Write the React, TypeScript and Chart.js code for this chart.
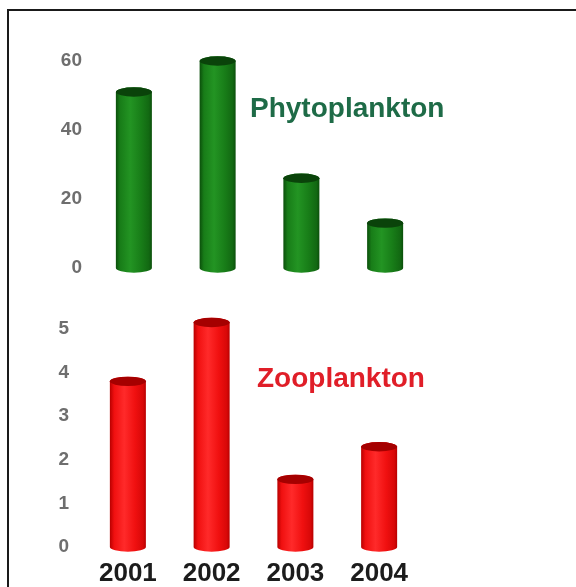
import React, { useEffect, useRef } from "react";
import { Chart, registerables } from "chart.js";

Chart.register(...registerables);

const years = ["2001", "2002", "2003", "2004"];
const phytoValues = [51, 60, 26, 13];
const zooValues = [3.8, 5.15, 1.55, 2.3];
const phytoTicks = [0, 20, 40, 60];
const zooTicks = [0, 1, 2, 3, 4, 5];
const phytoLabel = "Phytoplankton";
const zooLabel = "Zooplankton";

const FONT = "'Liberation Sans', Arial, sans-serif";

const cylinderPlugin = {
  id: "cylinder",
  afterDatasetsDraw(chart: any) {
    const o = chart.options.plugins.cylinder;
    if (!o) return;
    const ctx = chart.ctx;
    const meta = chart.getDatasetMeta(0);
    meta.data.forEach((el: any) => {
      const { x, y, base, width } = el.getProps(["x", "y", "base", "width"], true);
      const hw = width / 2;
      const l = x - hw;
      const r = x + hw;
      const ry = width * 0.13;
      const g = ctx.createLinearGradient(l, 0, r, 0);
      g.addColorStop(0, o.edge);
      g.addColorStop(0.12, o.mid);
      g.addColorStop(0.4, o.light);
      g.addColorStop(0.7, o.mid);
      g.addColorStop(0.92, o.mid2);
      g.addColorStop(1, o.edge);
      ctx.save();
      ctx.beginPath();
      ctx.moveTo(l, y);
      ctx.lineTo(l, base);
      ctx.ellipse(x, base, hw, ry, 0, Math.PI, 0, true);
      ctx.lineTo(r, y);
      ctx.ellipse(x, y, hw, ry, 0, 0, Math.PI, true);
      ctx.closePath();
      ctx.fillStyle = g;
      ctx.fill();
      ctx.beginPath();
      ctx.ellipse(x, y, hw, ry, 0, 0, Math.PI * 2);
      ctx.fillStyle = o.cap;
      ctx.fill();
      ctx.restore();
    });
  },
};

function makeChart(
  canvas: HTMLCanvasElement,
  values: number[],
  ticks: number[],
  colors: any,
  opts: { padTop: number; padBottom: number; padRight: number; yWidth: number; yPad: number; showX: boolean; xHeight: number }
) {
  return new Chart(canvas, {
    type: "bar",
    data: {
      labels: years,
      datasets: [
        {
          data: values,
          backgroundColor: "rgba(0,0,0,0)",
          borderWidth: 0,
          barPercentage: 0.43,
          categoryPercentage: 1,
        },
      ],
    },
    plugins: [cylinderPlugin],
    options: {
      animation: false,
      responsive: false,
      maintainAspectRatio: false,
      layout: { padding: { top: opts.padTop, bottom: opts.padBottom, left: 0, right: opts.padRight } },
      plugins: {
        legend: { display: false },
        tooltip: { enabled: false },
        title: { display: false },
        cylinder: colors,
      } as any,
      scales: {
        x: {
          display: opts.showX,
          grid: { display: false, drawTicks: false },
          border: { display: false },
          ticks: {
            color: "#1c1c1c",
            font: { family: FONT, size: 26, weight: "bold" },
            padding: 11,
          },
          afterFit: (s: any) => {
            s.height = opts.xHeight;
          },
        },
        y: {
          min: ticks[0],
          max: ticks[ticks.length - 1],
          grid: { display: false, drawTicks: false },
          border: { display: false },
          afterBuildTicks: (s: any) => {
            s.ticks = ticks.map((v) => ({ value: v }));
          },
          ticks: {
            color: "#6e6e6e",
            font: { family: FONT, size: 19, weight: "bold" },
            padding: opts.yPad,
          },
          afterFit: (s: any) => {
            s.width = opts.yWidth;
          },
        },
      },
    },
  });
}

export default function App() {
  const topRef = useRef<HTMLCanvasElement>(null);
  const botRef = useRef<HTMLCanvasElement>(null);

  useEffect(() => {
    const c1 = makeChart(
      topRef.current!,
      phytoValues,
      phytoTicks,
      { edge: "#0b4f0b", mid: "#187d18", mid2: "#126812", light: "#239423", cap: "#0a430a" },
      { padTop: 61, padBottom: 22, padRight: 149, yWidth: 92, yPad: 10, showX: false, xHeight: 0 }
    );
    const c2 = makeChart(
      botRef.current!,
      zooValues,
      zooTicks,
      { edge: "#b80000", mid: "#f01010", mid2: "#d80808", light: "#ff2a2a", cap: "#a50000" },
      { padTop: 39, padBottom: 0, padRight: 155, yWidth: 86, yPad: 17, showX: true, xHeight: 40 }
    );
    return () => {
      c1.destroy();
      c2.destroy();
    };
  }, []);

  return (
    <div
      style={{
        position: "fixed",
        left: 0,
        top: 0,
        width: 576,
        height: 587,
        overflow: "hidden",
        background: "#fff",
      }}
    >
      <div
        style={{
          position: "absolute",
          left: 7,
          top: 9,
          width: 620,
          height: 620,
          border: "2px solid #1a1a1a",
          boxSizing: "border-box",
        }}
      />
      <canvas ref={topRef} width={576} height={290} style={{ position: "absolute", left: 0, top: 0, width: 576, height: 290 }} />
      <canvas ref={botRef} width={576} height={297} style={{ position: "absolute", left: 0, top: 290, width: 576, height: 297 }} />
      <div
        style={{
          position: "absolute",
          left: 250,
          top: 93,
          fontFamily: FONT,
          fontWeight: "bold",
          fontSize: 28,
          lineHeight: "30px",
          color: "#1e6b47",
          whiteSpace: "nowrap",
        }}
      >
        {phytoLabel}
      </div>
      <div
        style={{
          position: "absolute",
          left: 257,
          top: 363,
          fontFamily: FONT,
          fontWeight: "bold",
          fontSize: 28,
          lineHeight: "30px",
          color: "#e01e28",
          whiteSpace: "nowrap",
        }}
      >
        {zooLabel}
      </div>
    </div>
  );
}
